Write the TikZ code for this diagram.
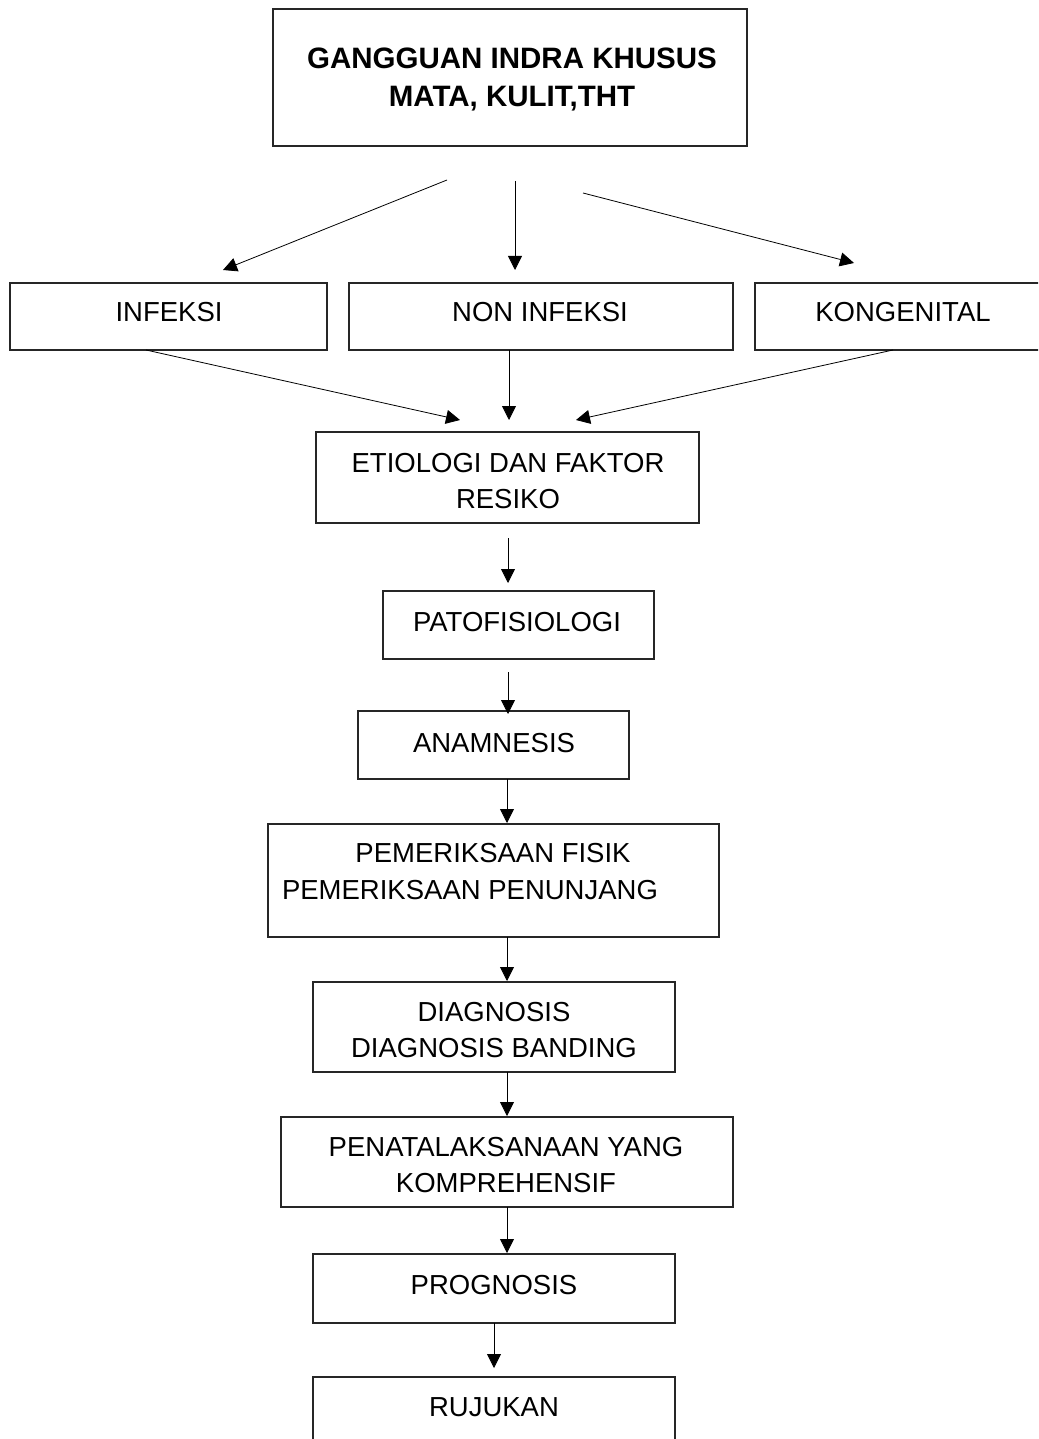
\documentclass[tikz,border=0pt]{standalone}
\usepackage{fontspec}
\setmainfont{Liberation Sans}
\usetikzlibrary{arrows.meta}
\begin{document}
\begin{tikzpicture}[x=1pt,y=-1pt,
  box/.style={draw=black!85, line width=1.1pt, rectangle, inner sep=0pt, outer sep=0pt},
  txt/.style={inner sep=0pt, outer sep=0pt, anchor=base, font=\fontsize{27.5}{33}\selectfont},
  ttl/.style={inner sep=0pt, outer sep=0pt, anchor=base, font=\fontsize{29.5}{35}\selectfont\bfseries},
  arr/.style={draw=black, line width=0.8pt, -{Triangle[length=14pt,width=14pt]}}]
\useasboundingbox (0,0) rectangle (1038,1439);
\clip (0,0) rectangle (1038,1439);
\fill[white] (0,0) rectangle (1038,1439);
% boxes
\node[box, minimum width=474pt, minimum height=137pt] (top) at (510,77.5) {};
\node[box, minimum width=317pt, minimum height=67pt] (inf) at (168.5,316.5) {};
\node[box, minimum width=384pt, minimum height=67pt] (noninf) at (541,316.5) {};
\node[box, minimum width=296pt, minimum height=67pt] (kong) at (903,316.5) {};
\node[box, minimum width=383pt, minimum height=91pt] (etio) at (507.5,477.5) {};
\node[box, minimum width=271pt, minimum height=68pt] (pato) at (518.5,625) {};
\node[box, minimum width=271pt, minimum height=68pt] (anam) at (493.5,745) {};
\node[box, minimum width=451pt, minimum height=113pt] (pem) at (493.5,880.5) {};
\node[box, minimum width=362pt, minimum height=90pt] (diag) at (494,1027) {};
\node[box, minimum width=452pt, minimum height=90pt] (pena) at (507,1162) {};
\node[box, minimum width=362pt, minimum height=69pt] (prog) at (494,1288.5) {};
\node[box, minimum width=362pt, minimum height=74pt] (ruj) at (494,1414) {};
% texts
\node[ttl] (top-t1) at (512,69) {GANGGUAN INDRA KHUSUS};
\node[ttl] (top-t2) at (512,107) {MATA, KULIT,THT};
\node[txt] (inf-t) at (169,321) {INFEKSI};
\node[txt] (noninf-t) at (540,321) {NON INFEKSI};
\node[txt] (kong-t) at (903,321) {KONGENITAL};
\node[txt] (etio-t1) at (508,472) {ETIOLOGI DAN FAKTOR};
\node[txt] (etio-t2) at (508,508) {RESIKO};
\node[txt] (pato-t) at (517,631) {PATOFISIOLOGI};
\node[txt] (anam-t) at (494,752) {ANAMNESIS};
\node[txt] (pem-t1) at (493,862) {PEMERIKSAAN FISIK};
\node[txt] (pem-t2) at (470,899) {PEMERIKSAAN PENUNJANG};
\node[txt] (diag-t1) at (494,1021) {DIAGNOSIS};
\node[txt] (diag-t2) at (494,1057) {DIAGNOSIS BANDING};
\node[txt] (pena-t1) at (506,1156) {PENATALAKSANAAN YANG};
\node[txt] (pena-t2) at (506,1192) {KOMPREHENSIF};
\node[txt] (prog-t) at (494,1294) {PROGNOSIS};
\node[txt] (ruj-t) at (494,1416) {RUJUKAN};
% connector end points
\coordinate (a1s) at (447,180); \coordinate (a1e) at (223,270);
\coordinate (a2s) at (515,181); \coordinate (a2e) at (515,270);
\coordinate (a3s) at (583,193); \coordinate (a3e) at (854,263);
\coordinate (b1s) at (146,350); \coordinate (b1e) at (460,420);
\coordinate (b2s) at (509,350); \coordinate (b2e) at (509,420);
\coordinate (b3s) at (893,350); \coordinate (b3e) at (576,420);
\coordinate (c1s) at (508,538); \coordinate (c1e) at (508,583);
\coordinate (c2s) at (508,672); \coordinate (c2e) at (508,714);
\coordinate (c3s) at (507,779); \coordinate (c3e) at (507,823);
\coordinate (c4s) at (507,937); \coordinate (c4e) at (507,981);
\coordinate (c5s) at (507,1072); \coordinate (c5e) at (507,1116);
\coordinate (c6s) at (507,1207); \coordinate (c6e) at (507,1253);
\coordinate (c7s) at (494,1323); \coordinate (c7e) at (494,1368);
% connectors
\draw[arr] (a1s) -- (a1e);
\draw[arr] (a2s) -- (a2e);
\draw[arr] (a3s) -- (a3e);
\draw[arr] (b1s) -- (b1e);
\draw[arr] (b2s) -- (b2e);
\draw[arr] (b3s) -- (b3e);
\draw[arr] (c1s) -- (c1e);
\draw[arr] (c2s) -- (c2e);
\draw[arr] (c3s) -- (c3e);
\draw[arr] (c4s) -- (c4e);
\draw[arr] (c5s) -- (c5e);
\draw[arr] (c6s) -- (c6e);
\draw[arr] (c7s) -- (c7e);
\end{tikzpicture}
\end{document}
